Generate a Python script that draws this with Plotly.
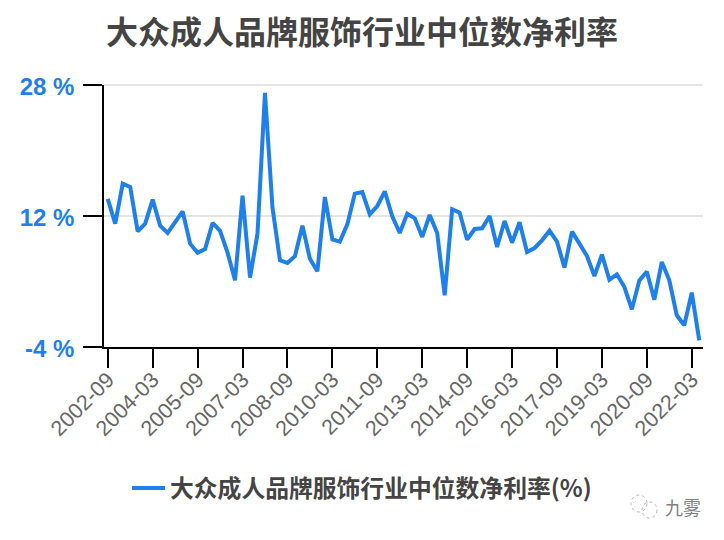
import plotly.graph_objects as go

title = "大众成人品牌服饰行业中位数净利率"
series_name = "大众成人品牌服饰行业中位数净利率(%)"
quarters = []
y, m = 2002, 9
for _ in range(80):
    quarters.append(f"{y}-{m:02d}")
    m += 3
    if m > 12:
        m = 3
        y += 1
values = [14.1, 11.07, 15.95, 15.54, 10.13, 11.07, 14.0, 10.82, 9.93, 11.27,
          12.57, 8.62, 7.52, 7.97, 11.15, 10.2, 7.52, 4.14, 14.49, 4.47,
          9.84, 27.03, 13.02, 6.59, 6.26, 7.08, 10.82, 6.79, 5.24, 14.32,
          9.15, 8.87, 10.98, 14.73, 14.93, 12.2, 13.22, 15.01, 11.96, 9.93,
          12.29, 11.72, 9.44, 12.12, 9.93, 2.31, 12.82, 12.41, 9.11, 10.41,
          10.5, 12.0, 8.21, 11.39, 8.74, 11.23, 7.6, 8.09, 9.03, 10.21,
          8.87, 5.69, 10.09, 8.62, 7.12, 4.67, 7.28, 4.22, 4.88, 3.33,
          0.6, 4.14, 5.2, 1.78, 6.38, 4.14, -0.13, -1.35, 2.64, -3.19]
x_ticks = ["2002-09", "2004-03", "2005-09", "2007-03", "2008-09", "2010-03", "2011-09",
           "2013-03", "2014-09", "2016-03", "2017-09", "2019-03", "2020-09", "2022-03"]
y_ticks = [-4, 12, 28]
y_labels = ["-4 %", "12 %", "28 %"]
FONT = "Noto Sans CJK SC, Liberation Sans, sans-serif"
BLUE = "#1e80e8"

W, H = 708, 524
L, R, T, B = 96, 13, 77, 185
PW, PH = W - L - R, H - T - B
def px(v): return (v - 8 - L) / PW
def py(v): return (H - B - (v - 8)) / PH

def icon_circle(x0, x1, y0, y1):
    return dict(type="circle", xref="paper", yref="paper", x0=px(x0), x1=px(x1), y0=py(y1), y1=py(y0),
                line=dict(color="#b5b5b5", width=1, dash="dot"), fillcolor="rgba(0,0,0,0)")

fig = go.Figure(go.Scatter(x=quarters, y=values, mode="lines", name=series_name,
                           line=dict(color=BLUE, width=4), showlegend=True))
fig.update_layout(
    width=W, height=H, autosize=False,
    margin=dict(l=L, r=R, t=T, b=B),
    paper_bgcolor="white", plot_bgcolor="white",
    title=dict(text=f"<b>{title}</b>", x=(362-8)/W, xanchor="center", y=1-(33-8)/H, yanchor="middle",
               font=dict(family=FONT, size=32, color="#444444")),
    legend=dict(orientation="h", x=px(362), xanchor="center", y=py(488), yanchor="middle",
                font=dict(family=FONT, size=23.8, color="#444444", weight="bold"), itemwidth=33),
    xaxis=dict(type="category", categoryorder="array", categoryarray=quarters,
               range=[-0.5, 79.5], tickmode="array", tickvals=x_ticks, ticktext=x_ticks,
               tickangle=-45, ticks="outside", ticklen=19, tickwidth=1.5, tickcolor="black",
               showline=True, linecolor="black", linewidth=1.5, showgrid=False, ticklabelstandoff=-9,
               tickfont=dict(family="Liberation Sans, sans-serif", size=21.5, color="#666666")),
    yaxis=dict(range=[-4, 28], tickmode="array", tickvals=y_ticks, ticktext=y_labels,
               ticks="outside", ticklen=19, tickwidth=1.5, tickcolor="black", ticklabelstandoff=4,
               ticklabelshift=2,
               showline=True, linecolor="black", linewidth=1.5, zeroline=False,
               showgrid=True, gridcolor="#e5e5e5", gridwidth=2,
               tickfont=dict(family="Liberation Sans, sans-serif", size=24, color=BLUE, weight="bold")),
    shapes=[
        dict(type="line", xref="paper", yref="paper", x0=0, x1=1, y0=1, y1=1,
             line=dict(color="#e5e5e5", width=2), layer="below"),
        icon_circle(631, 647, 495, 512),
        icon_circle(642, 657, 502, 518),
    ],
    annotations=[dict(text="九雾", xref="paper", yref="paper", x=px(683), y=py(507),
                      showarrow=False, xanchor="center", yanchor="middle",
                      font=dict(family=FONT, size=18, color="#808080"))],
)
fig.write_html("out.html")
